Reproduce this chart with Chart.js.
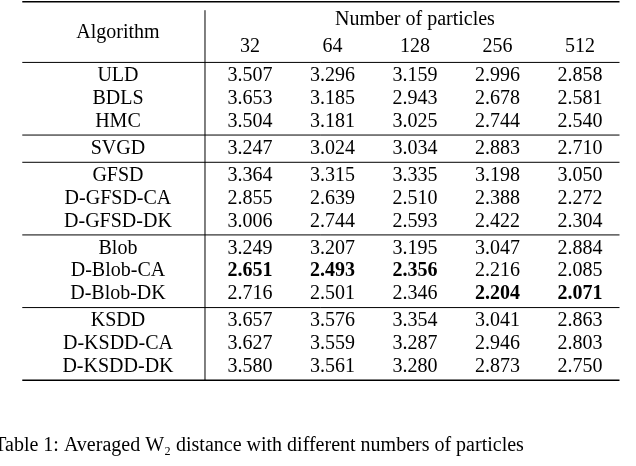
<!DOCTYPE html><html><head><meta charset="utf-8">
<script src="https://cdn.jsdelivr.net/npm/chart.js@4/dist/chart.umd.min.js"></script>
<style>html,body{margin:0;background:#fff}#w{width:636px;height:466px}</style></head><body>
<div id="w"><canvas id="c"></canvas></div>
<script>
const particleCounts=['32','64','128','256','512'];
const algorithms=['ULD','BDLS','HMC','SVGD','GFSD','D-GFSD-CA','D-GFSD-DK','Blob','D-Blob-CA','D-Blob-DK','KSDD','D-KSDD-CA','D-KSDD-DK'];
const groupOf=[0,0,0,1,2,2,2,3,3,3,4,4,4];
const values=[
[3.507,3.296,3.159,2.996,2.858],
[3.653,3.185,2.943,2.678,2.581],
[3.504,3.181,3.025,2.744,2.540],
[3.247,3.024,3.034,2.883,2.710],
[3.364,3.315,3.335,3.198,3.050],
[2.855,2.639,2.510,2.388,2.272],
[3.006,2.744,2.593,2.422,2.304],
[3.249,3.207,3.195,3.047,2.884],
[2.651,2.493,2.356,2.216,2.085],
[2.716,2.501,2.346,2.204,2.071],
[3.657,3.576,3.354,3.041,2.863],
[3.627,3.559,3.287,2.946,2.803],
[3.580,3.561,3.280,2.873,2.750]];
const boldCells=[[8,0],[8,1],[8,2],[9,3],[9,4]];
const caption='Table 1: Averaged W\u2082 distance with different numbers of particles';
const GAP=0.2;
const rowV=i=>i+groupOf[i]*GAP;
const tablePlugin={id:'tbl',afterDraw(ch){
 const c=ch.ctx,X=ch.scales.x,Y=ch.scales.y;
 const F='"Liberation Serif","DejaVu Serif",serif';
 c.save();c.fillStyle='#000';c.strokeStyle='#000';c.textAlign='center';c.textBaseline='middle';
 const L=-1.76,R=5.48;
 const hl=(v,x0,x1,w)=>{c.lineWidth=w;c.beginPath();c.moveTo(X.getPixelForValue(x0),Y.getPixelForValue(v));c.lineTo(X.getPixelForValue(x1),Y.getPixelForValue(v));c.stroke();};
 c.font='20px '+F;
 c.fillText('Number of particles',X.getPixelForValue(3),Y.getPixelForValue(-2.5));
 c.fillText('Algorithm',X.getPixelForValue(-0.6),Y.getPixelForValue(-1.9));
 particleCounts.forEach((p,j)=>c.fillText(p,X.getPixelForValue(j+1),Y.getPixelForValue(-1.3)));
 algorithms.forEach((a,i)=>{
  const y=Y.getPixelForValue(rowV(i));
  c.font='20px '+F;c.fillText(a,X.getPixelForValue(-0.6),y);
  values[i].forEach((v,j)=>{
   const b=boldCells.some(q=>q[0]===i&&q[1]===j);
   c.font=(b?'bold ':'')+'20px '+F;c.fillText(v.toFixed(3),X.getPixelForValue(j+1),y);
  });
 });
 hl(-3.27,L,R,1.5);
 hl(-0.6,L,R,1);
 for(let i=1;i<algorithms.length;i++) if(groupOf[i]!==groupOf[i-1]) hl((rowV(i-1)+rowV(i))/2,L,R,1);
 hl(rowV(12)+0.6,L,R,1.5);
 c.lineWidth=1;c.beginPath();const vx=X.getPixelForValue(0.455);c.moveTo(vx,Y.getPixelForValue(-2.9));c.lineTo(vx,Y.getPixelForValue(rowV(12)+0.6));c.stroke();
 c.textAlign='left';c.font='20px '+F;c.fillText(caption,X.getPixelForValue(-2.1),Y.getPixelForValue(16.3));
 c.restore();}};
new Chart(document.getElementById('c'),{type:'scatter',data:{datasets:[{data:[],showLine:false}]},
 options:{responsive:true,maintainAspectRatio:false,animation:false,layout:{padding:0},
  plugins:{legend:{display:false},tooltip:{enabled:false}},
  scales:{x:{type:'linear',display:false,min:-2.03,max:5.68},y:{type:'linear',display:false,reverse:true,min:-3.35,max:17.18}}},
 plugins:[tablePlugin]});
</script></body></html>
